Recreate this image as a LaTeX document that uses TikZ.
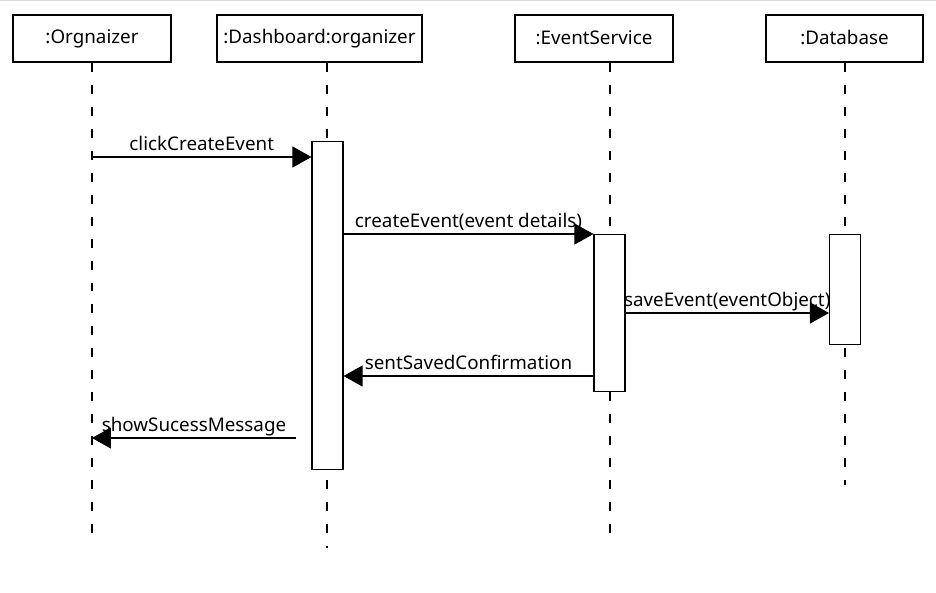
\documentclass[tikz,border=0pt]{standalone}
\usepackage{fontspec}
\setmainfont{Noto Sans}
\usetikzlibrary{arrows.meta}
\tikzset{
  objbox/.style={draw, line width=0.022cm, minimum width=#1, minimum height=0.94cm, inner sep=0pt},
  actbox/.style={draw, fill=white, line width=0.022cm, minimum width=0.62cm, minimum height=#1, anchor=north, inner sep=0pt},
  lifeline/.style={line width=0.022cm, dash pattern=on 0.18cm off 0.26cm},
  msg/.style={line width=0.022cm, -{Triangle[length=0.38cm, width=0.42cm]}},
  msglabel/.style={anchor=base, inner sep=0pt, yshift=0.13cm}
}
\begin{document}
\begin{tikzpicture}[x=0.02cm, y=-0.02cm, font=\fontsize{10.7}{12}\selectfont]
            \useasboundingbox (0,0) rectangle (936,592);
            \draw [black!15, line width=0.03cm] (0,0.5) -- (936,0.5);%

            % Drawing objects
            \node [objbox=3.16cm] (org) at (92,38.5) {\raisebox{1pt}{:Orgnaizer}};%
            \node [objbox=4.1cm] (dash) at (319.5,38.5) {\raisebox{1pt}{:Dashboard:organizer}};%
            \node [objbox=3.16cm] (evs) at (594,38.5) {\raisebox{1pt}{:EventService}};%
            \node [objbox=3.14cm] (db) at (844.5,38.5) {\raisebox{1pt}{:Database}};%

            % Drawing lifelines
            \draw [lifeline] (org.south -| 92,0) -- (92,542);%
            \draw [lifeline] (dash.south -| 327,0) -- (327,548);%
            \draw [lifeline] (evs.south -| 610,0) -- (610,533);%
            \draw [lifeline] (db.south -| 845,0) -- (845,485);%

            % Drawing activations
            \node [actbox=6.56cm] (actDash) at (327.5,141) {};%
            \node [actbox=3.14cm] (actEvs) at (609.5,234) {};%
            \node [actbox=2.2cm] (actDb) at (845,234) {};%

            % Drawing messages
            \coordinate (m1) at (92,157);%
            \draw [msg] (m1) -- (m1 -| actDash.west) node [midway, msglabel] {clickCreateEvent};%
            \coordinate (m2) at (343,234);%
            \draw [msg] (m2 -| actDash.east) -- (m2 -| actEvs.west) node [midway, msglabel] {createEvent(event details)};%
            \coordinate (m3) at (625,313);%
            \draw [msg] (m3 -| actEvs.east) -- (m3 -| actDb.west) node [midway, msglabel] {saveEvent(eventObject)};%
            \coordinate (m4) at (594,376);%
            \draw [msg] (m4 -| actEvs.west) -- (m4 -| actDash.east) node [midway, msglabel] {sentSavedConfirmation};%
            \coordinate (m5) at (296,438);%
            \draw [msg] (m5) -- (m5 -| m1) node [midway, msglabel] {showSucessMessage};%
\end{tikzpicture}
\end{document}
